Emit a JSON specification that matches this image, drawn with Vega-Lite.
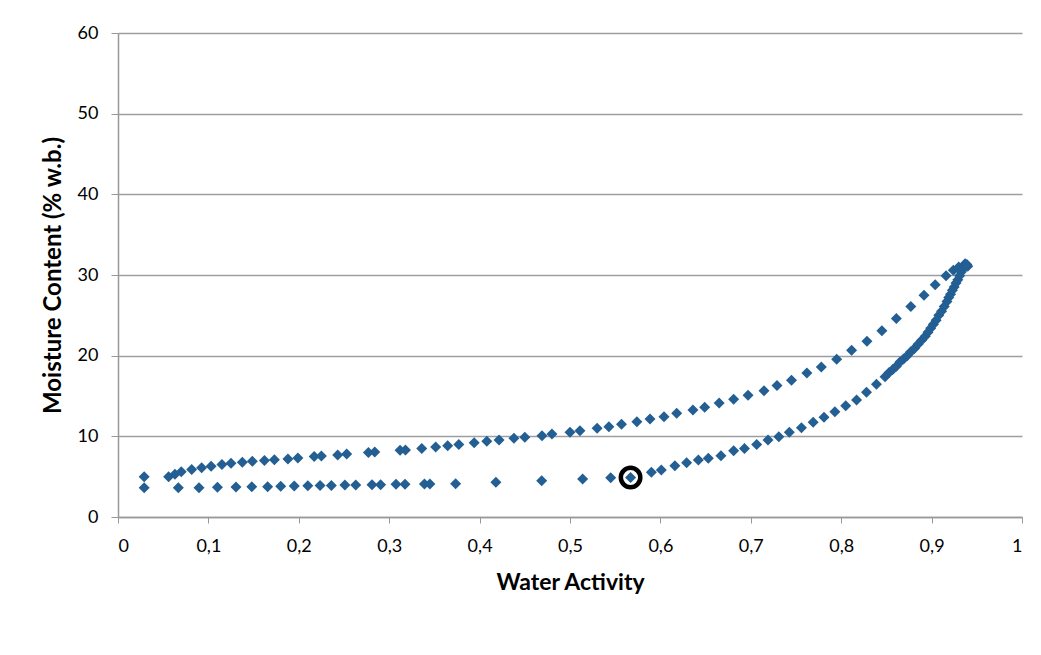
{
  "$schema": "https://vega.github.io/schema/vega-lite/v6.json",
  "width": 904,
  "height": 484,
  "autosize": "none",
  "padding": {"left": 118, "top": 33, "right": 19, "bottom": 138},
  "background": "white",
  "config": {
    "view": {"stroke": null},
    "font": "Lato"
  },
  "data": {
    "values": [
      {"aw": 0.029, "mc": 5.0, "branch": "upper"},
      {"aw": 0.056, "mc": 5.0, "branch": "upper"},
      {"aw": 0.063, "mc": 5.3, "branch": "upper"},
      {"aw": 0.070, "mc": 5.6, "branch": "upper"},
      {"aw": 0.0815, "mc": 5.9, "branch": "upper"},
      {"aw": 0.0925, "mc": 6.1, "branch": "upper"},
      {"aw": 0.103, "mc": 6.3, "branch": "upper"},
      {"aw": 0.115, "mc": 6.5, "branch": "upper"},
      {"aw": 0.125, "mc": 6.65, "branch": "upper"},
      {"aw": 0.1375, "mc": 6.8, "branch": "upper"},
      {"aw": 0.1486, "mc": 6.9, "branch": "upper"},
      {"aw": 0.162, "mc": 7.0, "branch": "upper"},
      {"aw": 0.173, "mc": 7.1, "branch": "upper"},
      {"aw": 0.188, "mc": 7.2, "branch": "upper"},
      {"aw": 0.199, "mc": 7.3, "branch": "upper"},
      {"aw": 0.217, "mc": 7.5, "branch": "upper"},
      {"aw": 0.225, "mc": 7.55, "branch": "upper"},
      {"aw": 0.243, "mc": 7.7, "branch": "upper"},
      {"aw": 0.253, "mc": 7.8, "branch": "upper"},
      {"aw": 0.277, "mc": 8.0, "branch": "upper"},
      {"aw": 0.284, "mc": 8.05, "branch": "upper"},
      {"aw": 0.312, "mc": 8.26, "branch": "upper"},
      {"aw": 0.318, "mc": 8.3, "branch": "upper"},
      {"aw": 0.336, "mc": 8.5, "branch": "upper"},
      {"aw": 0.3514, "mc": 8.68, "branch": "upper"},
      {"aw": 0.3647, "mc": 8.84, "branch": "upper"},
      {"aw": 0.377, "mc": 9.0, "branch": "upper"},
      {"aw": 0.394, "mc": 9.2, "branch": "upper"},
      {"aw": 0.408, "mc": 9.38, "branch": "upper"},
      {"aw": 0.4215, "mc": 9.55, "branch": "upper"},
      {"aw": 0.438, "mc": 9.75, "branch": "upper"},
      {"aw": 0.450, "mc": 9.88, "branch": "upper"},
      {"aw": 0.469, "mc": 10.08, "branch": "upper"},
      {"aw": 0.480, "mc": 10.3, "branch": "upper"},
      {"aw": 0.500, "mc": 10.5, "branch": "upper"},
      {"aw": 0.511, "mc": 10.7, "branch": "upper"},
      {"aw": 0.530, "mc": 11.0, "branch": "upper"},
      {"aw": 0.543, "mc": 11.2, "branch": "upper"},
      {"aw": 0.557, "mc": 11.5, "branch": "upper"},
      {"aw": 0.574, "mc": 11.8, "branch": "upper"},
      {"aw": 0.5885, "mc": 12.15, "branch": "upper"},
      {"aw": 0.604, "mc": 12.43, "branch": "upper"},
      {"aw": 0.618, "mc": 12.85, "branch": "upper"},
      {"aw": 0.636, "mc": 13.26, "branch": "upper"},
      {"aw": 0.649, "mc": 13.6, "branch": "upper"},
      {"aw": 0.665, "mc": 14.13, "branch": "upper"},
      {"aw": 0.681, "mc": 14.6, "branch": "upper"},
      {"aw": 0.697, "mc": 15.1, "branch": "upper"},
      {"aw": 0.7146, "mc": 15.66, "branch": "upper"},
      {"aw": 0.729, "mc": 16.3, "branch": "upper"},
      {"aw": 0.745, "mc": 16.94, "branch": "upper"},
      {"aw": 0.762, "mc": 17.85, "branch": "upper"},
      {"aw": 0.778, "mc": 18.6, "branch": "upper"},
      {"aw": 0.795, "mc": 19.55, "branch": "upper"},
      {"aw": 0.8115, "mc": 20.66, "branch": "upper"},
      {"aw": 0.8285, "mc": 21.8, "branch": "upper"},
      {"aw": 0.845, "mc": 23.1, "branch": "upper"},
      {"aw": 0.861, "mc": 24.6, "branch": "upper"},
      {"aw": 0.877, "mc": 26.1, "branch": "upper"},
      {"aw": 0.8916, "mc": 27.5, "branch": "upper"},
      {"aw": 0.904, "mc": 28.8, "branch": "upper"},
      {"aw": 0.916, "mc": 29.9, "branch": "upper"},
      {"aw": 0.924, "mc": 30.6, "branch": "upper"},
      {"aw": 0.930, "mc": 31.0, "branch": "upper"},
      {"aw": 0.937, "mc": 31.4, "branch": "upper"},
      {"aw": 0.029, "mc": 3.63, "branch": "lower"},
      {"aw": 0.0667, "mc": 3.63, "branch": "lower"},
      {"aw": 0.0896, "mc": 3.63, "branch": "lower"},
      {"aw": 0.110, "mc": 3.68, "branch": "lower"},
      {"aw": 0.1305, "mc": 3.72, "branch": "lower"},
      {"aw": 0.148, "mc": 3.76, "branch": "lower"},
      {"aw": 0.1655, "mc": 3.76, "branch": "lower"},
      {"aw": 0.180, "mc": 3.8, "branch": "lower"},
      {"aw": 0.195, "mc": 3.84, "branch": "lower"},
      {"aw": 0.210, "mc": 3.88, "branch": "lower"},
      {"aw": 0.2235, "mc": 3.9, "branch": "lower"},
      {"aw": 0.236, "mc": 3.9, "branch": "lower"},
      {"aw": 0.251, "mc": 3.97, "branch": "lower"},
      {"aw": 0.263, "mc": 3.97, "branch": "lower"},
      {"aw": 0.281, "mc": 4.0, "branch": "lower"},
      {"aw": 0.2905, "mc": 4.0, "branch": "lower"},
      {"aw": 0.3075, "mc": 4.05, "branch": "lower"},
      {"aw": 0.3175, "mc": 4.05, "branch": "lower"},
      {"aw": 0.339, "mc": 4.1, "branch": "lower"},
      {"aw": 0.345, "mc": 4.1, "branch": "lower"},
      {"aw": 0.3735, "mc": 4.13, "branch": "lower"},
      {"aw": 0.418, "mc": 4.3, "branch": "lower"},
      {"aw": 0.4687, "mc": 4.5, "branch": "lower"},
      {"aw": 0.514, "mc": 4.7, "branch": "lower"},
      {"aw": 0.545, "mc": 4.87, "branch": "lower"},
      {"aw": 0.567, "mc": 4.9, "branch": "lower", "marked": true},
      {"aw": 0.590, "mc": 5.54, "branch": "lower"},
      {"aw": 0.601, "mc": 5.83, "branch": "lower"},
      {"aw": 0.616, "mc": 6.36, "branch": "lower"},
      {"aw": 0.629, "mc": 6.73, "branch": "lower"},
      {"aw": 0.642, "mc": 7.07, "branch": "lower"},
      {"aw": 0.653, "mc": 7.27, "branch": "lower"},
      {"aw": 0.667, "mc": 7.6, "branch": "lower"},
      {"aw": 0.681, "mc": 8.2, "branch": "lower"},
      {"aw": 0.693, "mc": 8.5, "branch": "lower"},
      {"aw": 0.7065, "mc": 9.0, "branch": "lower"},
      {"aw": 0.719, "mc": 9.55, "branch": "lower"},
      {"aw": 0.731, "mc": 9.95, "branch": "lower"},
      {"aw": 0.7426, "mc": 10.5, "branch": "lower"},
      {"aw": 0.756, "mc": 11.07, "branch": "lower"},
      {"aw": 0.769, "mc": 11.74, "branch": "lower"},
      {"aw": 0.781, "mc": 12.36, "branch": "lower"},
      {"aw": 0.793, "mc": 13.05, "branch": "lower"},
      {"aw": 0.805, "mc": 13.8, "branch": "lower"},
      {"aw": 0.817, "mc": 14.5, "branch": "lower"},
      {"aw": 0.828, "mc": 15.46, "branch": "lower"},
      {"aw": 0.839, "mc": 16.45, "branch": "lower"},
      {"aw": 0.8485, "mc": 17.4, "branch": "lower"},
      {"aw": 0.853, "mc": 17.9, "branch": "lower"},
      {"aw": 0.857, "mc": 18.3, "branch": "lower"},
      {"aw": 0.861, "mc": 18.7, "branch": "lower"},
      {"aw": 0.865, "mc": 19.2, "branch": "lower"},
      {"aw": 0.869, "mc": 19.6, "branch": "lower"},
      {"aw": 0.873, "mc": 20.0, "branch": "lower"},
      {"aw": 0.877, "mc": 20.5, "branch": "lower"},
      {"aw": 0.881, "mc": 20.9, "branch": "lower"},
      {"aw": 0.885, "mc": 21.4, "branch": "lower"},
      {"aw": 0.889, "mc": 21.9, "branch": "lower"},
      {"aw": 0.893, "mc": 22.4, "branch": "lower"},
      {"aw": 0.896, "mc": 22.9, "branch": "lower"},
      {"aw": 0.899, "mc": 23.4, "branch": "lower"},
      {"aw": 0.902, "mc": 23.9, "branch": "lower"},
      {"aw": 0.905, "mc": 24.4, "branch": "lower"},
      {"aw": 0.908, "mc": 25.0, "branch": "lower"},
      {"aw": 0.911, "mc": 25.5, "branch": "lower"},
      {"aw": 0.914, "mc": 26.1, "branch": "lower"},
      {"aw": 0.917, "mc": 26.7, "branch": "lower"},
      {"aw": 0.919, "mc": 27.2, "branch": "lower"},
      {"aw": 0.921, "mc": 27.6, "branch": "lower"},
      {"aw": 0.923, "mc": 28.1, "branch": "lower"},
      {"aw": 0.925, "mc": 28.5, "branch": "lower"},
      {"aw": 0.927, "mc": 29.0, "branch": "lower"},
      {"aw": 0.929, "mc": 29.4, "branch": "lower"},
      {"aw": 0.931, "mc": 29.9, "branch": "lower"},
      {"aw": 0.933, "mc": 30.4, "branch": "lower"},
      {"aw": 0.935, "mc": 30.8, "branch": "lower"},
      {"aw": 0.937, "mc": 31.1, "branch": "lower"},
      {"aw": 0.939, "mc": 31.3, "branch": "lower"},
      {"aw": 0.940, "mc": 31.1, "branch": "lower"}
    ]
  },
  "encoding": {
    "x": {
      "field": "aw",
      "type": "quantitative",
      "scale": {"domain": [0, 1], "nice": false, "zero": false},
      "axis": {
        "title": "Water Activity",
        "titleFont": "Lato",
        "titleFontSize": 23,
        "titleFontWeight": "bold",
        "titleColor": "#000000",
        "titlePadding": 16,
        "values": [0, 0.1, 0.2, 0.3, 0.4, 0.5, 0.6, 0.7, 0.8, 0.9, 1],
        "labelExpr": "replace(toString(datum.value), '.', ',')",
        "labelFont": "Lato",
        "labelFontSize": 18,
        "labelColor": "#000000",
        "labelPadding": 14,
        "tickSize": 6,
        "tickColor": "#999999",
        "domainColor": "#999999",
        "domainWidth": 1.5,
        "grid": false
      }
    },
    "y": {
      "field": "mc",
      "type": "quantitative",
      "scale": {"domain": [0, 60], "nice": false},
      "axis": {
        "title": "Moisture Content (% w.b.)",
        "titleFont": "Lato",
        "titleFontSize": 24,
        "titleFontWeight": "bold",
        "titleColor": "#000000",
        "titlePadding": 12,
        "values": [0, 10, 20, 30, 40, 50, 60],
        "labelFont": "Lato",
        "labelFontSize": 18,
        "labelColor": "#000000",
        "labelPadding": 13,
        "tickSize": 7,
        "tickColor": "#999999",
        "domainColor": "#999999",
        "domainWidth": 1.5,
        "grid": true,
        "gridColor": "#9e9e9e",
        "gridWidth": 1.5
      }
    }
  },
  "layer": [
    {
      "mark": {"type": "point", "shape": "diamond", "filled": true, "size": 121, "color": "#235F93", "opacity": 1}
    },
    {
      "transform": [{"filter": "datum.marked === true"}],
      "mark": {"type": "point", "shape": "circle", "filled": false, "size": 380, "stroke": "#000000", "strokeWidth": 4.5, "opacity": 1}
    }
  ]
}
